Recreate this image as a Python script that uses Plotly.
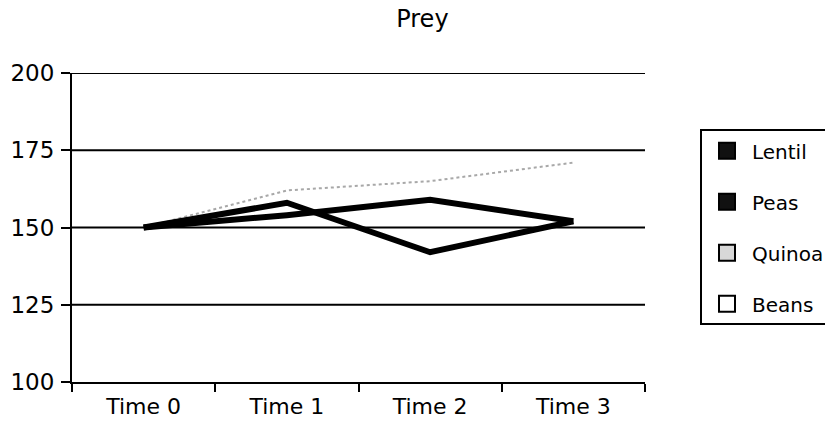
import plotly.graph_objects as go

categories = ["Time 0", "Time 1", "Time 2", "Time 3"]
lentil = [150, 158, 142, 152]
peas = [150, 154, 159, 152]
quinoa = [150, 162, 165, 171]
beans = [150, 150, 150, 150]
y_ticks = [100, 125, 150, 175, 200]

FONT = "DejaVu Sans, Liberation Sans, Arial, sans-serif"

fig = go.Figure()

# data lines (not in legend)
fig.add_trace(go.Scatter(x=categories, y=beans, mode="lines", name="Beans",
                         line=dict(color="white", width=2), showlegend=False))
fig.add_trace(go.Scatter(x=categories, y=quinoa, mode="lines", name="Quinoa",
                         line=dict(color="#a8a8a8", width=2, dash="dot"), showlegend=False))
fig.add_trace(go.Scatter(x=categories, y=peas, mode="lines", name="Peas",
                         line=dict(color="black", width=6), showlegend=False))
fig.add_trace(go.Scatter(x=categories, y=lentil, mode="lines", name="Lentil",
                         line=dict(color="black", width=6), showlegend=False))

# legend entries with square swatches
legend_items = [("Lentil", "#111111"), ("Peas", "#111111"), ("Quinoa", "#d8d8d8"), ("Beans", "white")]
for i, (nm, col) in enumerate(legend_items):
    fig.add_trace(go.Scatter(x=[None], y=[None], mode="markers", name=nm,
                             legendgroup=f"g{i}",
                             marker=dict(symbol="square", size=16, color=col,
                                         line=dict(color="black", width=2))))

# gridlines drawn above the traces
for v in y_ticks[1:]:
    fig.add_shape(type="line", xref="x domain", yref="y", x0=0, x1=1, y0=v, y1=v,
                  line=dict(color="black", width=2), layer="above")

fig.update_layout(
    width=825, height=421,
    margin=dict(l=72, r=180, t=73, b=39, autoexpand=False),
    paper_bgcolor="white", plot_bgcolor="white",
    font=dict(family=FONT, size=22, color="black"),
    title=dict(text="Prey", x=0.512, xanchor="center", xref="container",
               y=0.955, yanchor="middle", yref="container",
               font=dict(family=FONT, size=24, color="black")),
    showlegend=True,
    legend=dict(x=1.096, y=0.818, xanchor="left", yanchor="top",
                bordercolor="black", borderwidth=2, bgcolor="white",
                traceorder="grouped", tracegroupgap=22,
                itemwidth=40,
                font=dict(family=FONT, size=20, color="black")),
    xaxis=dict(type="category", range=[-0.5, 3.5], showgrid=False,
               showline=True, linecolor="black", linewidth=2,
               ticks="outside", tickson="boundaries", ticklen=8, tickwidth=2,
               tickcolor="black", tickfont=dict(size=22), zeroline=False,
               ticklabelstandoff=4, automargin=False),
    yaxis=dict(range=[100, 200], tickvals=y_ticks, showgrid=False,
               showline=True, linecolor="black", linewidth=2,
               ticks="outside", ticklen=9, tickwidth=2, tickcolor="black",
               tickfont=dict(size=23), zeroline=False,
               ticklabelstandoff=2, automargin=False),
)

fig.write_html("out.html")
